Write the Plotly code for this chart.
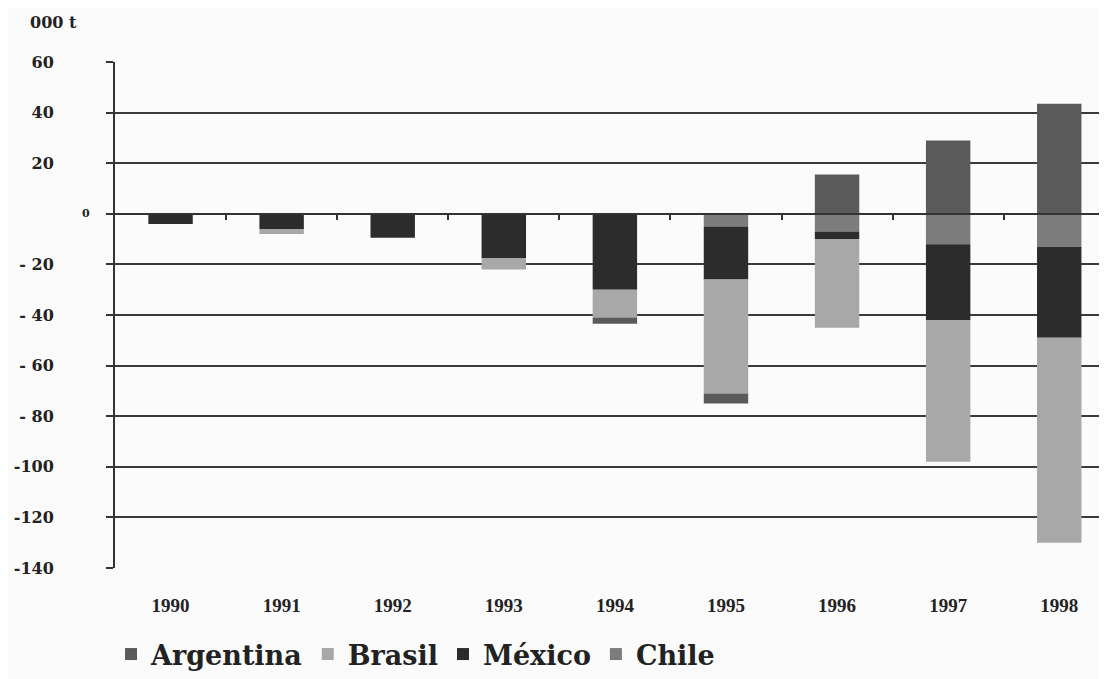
import plotly.graph_objects as go

years = ["1990", "1991", "1992", "1993", "1994", "1995", "1996", "1997", "1998"]
argentina = [None, None, None, None, -2.5, -4, 15.5, 29, 43.5]
brasil = [None, -2, None, -4.5, -11, -45, -35, -56, -81]
mexico = [-4, -6, -9.5, -17.5, -30, -21, -3, -30, -36]
chile = [None, None, None, None, None, -5, -7, -12, -13]

ytick_vals = [60, 40, 20, 0, -20, -40, -60, -80, -100, -120, -140]
ytick_text = ["<b>60</b>", "<b>40</b>", "<b>20</b>", "", "<b>- 20</b>", "<b>- 40</b>", "<b>- 60</b>",
              "<b>- 80</b>", "<b>-100</b>", "<b>-120</b>", "<b>-140</b>"]
year_text = ["<b>%s</b>" % y for y in years]

xpos = list(range(len(years)))
SERIF_W = "DejaVu Serif, serif"
SERIF_N = "Liberation Serif, serif"
fig = go.Figure()

series = [
    ("<b>Chile</b>", chile, "#7c7c7c", 4),
    ("<b>México</b>", mexico, "#2c2c2c", 3),
    ("<b>Brasil</b>", brasil, "#a8a8a8", 2),
    ("<b>Argentina</b>", argentina, "#5a5a5a", 1),
]
for name, vals, col, rank in series:
    fig.add_trace(go.Bar(x=xpos, y=vals, name=name, marker_color=col,
                         marker_line_width=0, width=0.4, legendrank=rank))

# invisible trace for the zero axis with boundary ticks
fig.add_trace(go.Scatter(x=[0], y=[0], xaxis="x2", mode="markers",
                         marker=dict(opacity=0), showlegend=False, hoverinfo="skip"))

fig.update_layout(
    width=1099, height=671,
    margin=dict(l=107, r=0, t=54, b=107),
    barmode="relative",
    paper_bgcolor="#fbfbfc", plot_bgcolor="#fbfbfc",
    font=dict(family=SERIF_W, color="#222"),
    xaxis=dict(range=[-0.5, 8.43], tickvals=xpos, ticktext=year_text, showgrid=False,
               showline=False, zeroline=False, ticks="", ticklabelstandoff=24,
               tickfont=dict(family=SERIF_N, size=19, color="#222")),
    xaxis2=dict(overlaying="x", anchor="free", position=0.7, range=[-0.5, 8.43],
                tickvals=[i + 0.5 for i in range(8)], ticks="outside", ticklen=5,
                tickcolor="#333", tickwidth=1.5, showticklabels=False, showgrid=False,
                showline=True, linecolor="#333", linewidth=2, zeroline=False,
                layer="above traces"),
    yaxis=dict(range=[-140, 60], tickvals=ytick_vals, ticktext=ytick_text,
               showgrid=True, gridcolor="#3a3a3a", gridwidth=1.6, zeroline=False,
               showline=True, linecolor="#333", linewidth=2, ticks="outside",
               ticklen=7, tickcolor="#333", tickwidth=1.6, ticklabelstandoff=49,
               tickfont=dict(family=SERIF_W, size=16, color="#222")),
    legend=dict(orientation="h", x=-0.004, xanchor="left", y=-0.172, yanchor="middle",
                font=dict(family=SERIF_W, size=27, color="#222"),
                bgcolor="rgba(0,0,0,0)", itemwidth=30),
    annotations=[
        dict(text="<b>000 t</b>", xref="paper", yref="paper", x=-0.088, y=1.078,
             xanchor="left", yanchor="middle", showarrow=False,
             font=dict(family=SERIF_W, size=16, color="#222")),
        dict(text="<b>0</b>", xref="paper", yref="y", x=-0.029, y=0,
             xanchor="center", yanchor="middle", showarrow=False,
             font=dict(family=SERIF_W, size=11, color="#222")),
    ],
)

fig.write_html("out.html")
